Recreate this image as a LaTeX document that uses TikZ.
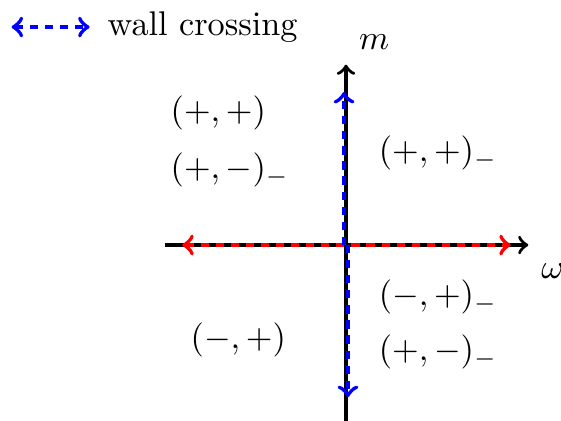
\documentclass[tikz,border=0pt]{standalone}
\usepackage{amsmath}
\usepackage{amssymb}
\usepackage{tikz}

\begin{document}
\begin{tikzpicture}[
		axis/.style={line width=1pt, ->},
		wallline/.style={very thick, dash pattern=on 2.4pt off 2pt},
		lbl/.style={inner sep=0pt, anchor=base west}
	]
	
	\useasboundingbox (-3.549,-1.795) rectangle (2.205,2.513);
	
	% Punti degli assi
	\coordinate (O) at (0,0);
	\coordinate (xmin) at (-1.86,0);
	\coordinate (xmax) at (1.87,0);
	\coordinate (ymin) at (0,-1.86);
	\coordinate (ymax) at (0,1.85);
	
	% Disegnare gli assi
	\draw[axis] (xmin) -- (xmax) node[below right, yshift=-1.5pt] (w) {$\omega$};
	\draw[axis] (ymin) -- (ymax) node[above right, yshift=0.5pt] (m) {$m$};
	
	% Rette di attraversamento
	\coordinate (rl) at (-1.68,0);
	\coordinate (rr) at (1.69,0);
	\draw[wallline, red, <->] (rl) -- (rr);
	
	\coordinate (bO1) at (-0.02,0);
	\coordinate (bt) at (-0.02,1.57);
	\coordinate (bO2) at (0.02,0);
	\coordinate (bb) at (0.02,-1.56);
	\draw[wallline, blue, ->] (bO1) -- (bt);
	\draw[wallline, blue, ->] (bO2) -- (bb);
	
	% Etichette delle regioni
	\node[lbl] (pp) at (-1.805,1.266) {$(+,+)$};
	\node[lbl] (pmL) at (-1.805,0.681) {$(+,-)_-$};
	\node[lbl] (ppR) at (0.33,0.855) {$(+,+)_-$};
	\node[lbl] (mpR) at (0.33,-0.622) {$(-,+)_-$};
	\node[lbl] (pmR) at (0.33,-1.186) {$(+,-)_-$};
	\node[lbl] (mp) at (-1.6,-1.063) {$(-,+)$};
	
	% Legenda
	\coordinate (la) at (-3.43,2.236);
	\coordinate (lb) at (-2.63,2.236);
	\draw[wallline, blue, <->] (la) -- (lb);
	\node[lbl] (leg) at (-2.451,2.144) {wall crossing};
	
\end{tikzpicture}
\end{document}
